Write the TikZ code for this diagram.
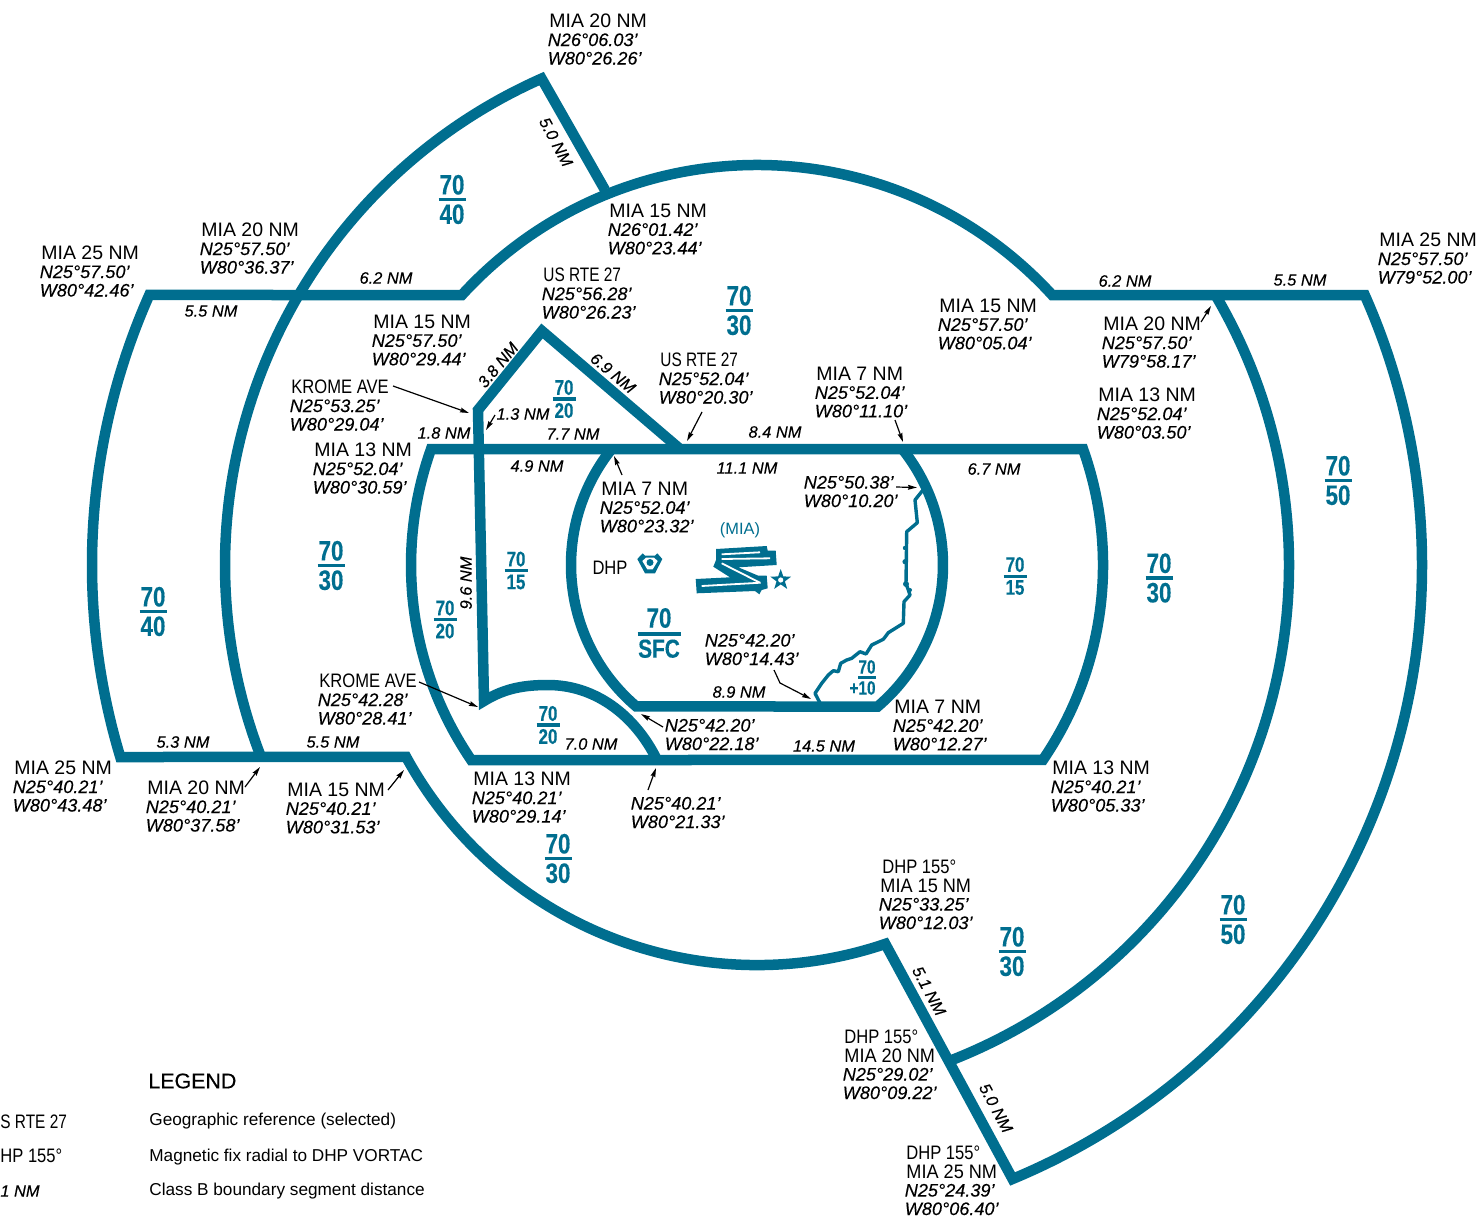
\documentclass[tikz,border=0pt]{standalone}
\usepackage{fontspec}
\setmainfont{Liberation Sans}
\newfontfamily\numf[FakeStretch=0.8,FakeBold=0.3]{Liberation Sans}
\newfontfamily\crdf[FakeBold=0.25]{Liberation Sans}
\newfontfamily\narA[FakeStretch=0.85]{Liberation Sans}
\newfontfamily\narB[FakeStretch=0.79]{Liberation Sans}
\newfontfamily\narC[FakeStretch=0.93]{Liberation Sans}
\usetikzlibrary{arrows.meta,shapes.geometric}
\definecolor{chart}{HTML}{006E8F}
\newcommand\crd[1]{{\crdf\itshape\fontsize{9.05}{9.25}\selectfont\kern-0.8pt #1}}
\newcommand\frbox[5]{\vbox{\hbox to #1{\hss #4\hss}\kern #3\hrule width #1 height #2\kern #3\hbox to #1{\hss #5\hss}}}
\tikzset{
  lab/.style={anchor=north west,inner sep=0pt,align=left,yshift=3.75pt,font=\fontsize{9.75}{9.25}\selectfont},
  seg/.style={inner sep=0pt,font=\crdf\itshape\fontsize{8.2}{9}\selectfont},
  leg/.style={anchor=west,inner sep=0pt,font=\fontsize{8.6}{9}\selectfont},
  bd/.style={draw=chart,line width=5.25pt,line join=miter,miter limit=10},
  lead/.style={draw=black,line width=0.6pt,-{Stealth[length=4.5pt,width=2.4pt,inset=0.5pt]}},
  fr/.style={inner sep=0pt,text=chart,font=\numf\bfseries\fontsize{14}{14}\selectfont},
  frs/.style={inner sep=0pt,text=chart,font=\numf\bfseries\fontsize{10.6}{11}\selectfont},
}
\newcommand\leader[3]{\coordinate (#1a) at (#2);\coordinate (#1b) at (#3);\draw[lead] (#1a) -- (#1b);}
\newcommand\frL[5]{\node[fr] (#1) at (#2,#3) {\frbox{13.5pt}{1.6pt}{1.6pt}{#4}{#5}};}
\newcommand\frS[5]{\node[frs] (#1) at (#2,#3) {\frbox{11.5pt}{1.6pt}{1.2pt}{#4}{#5}};}
\begin{document}
\begin{tikzpicture}[x=0.5pt,y=-0.5pt]
\useasboundingbox (0,0) rectangle (1481,1220);
% outer boundary
\draw[bd] (300,295) -- (461.9,295) arc[start angle=222.45,end angle=317.55,radius=400]
  -- (1364.7,295) arc[start angle=-23.96,end angle=67.4,radius=665]
  -- (885.3,943.9) arc[start angle=71.3,end angle=151.33,radius=400]
  -- (120.3,757) arc[start angle=163.22,end angle=203.96,radius=665] -- (300,295) -- cycle;
% 20 NM
\draw[bd] (261,757) arc[start angle=158.84,end angle=246.1,radius=532] -- (605,190);
\draw[bd] (1215.4,295) arc[start angle=-30.5,end angle=68.7,radius=532];
% 13 NM
\draw[bd] (700,449) -- (1083,449) arc[start angle=-19.59,end angle=34.3,radius=346]
  -- (471.2,760) arc[start angle=145.7,end angle=199.59,radius=346] -- (700,449) -- cycle;
% 7 NM
\draw[bd] (611.6,449) arc[start angle=218.58,end angle=130.47,radius=186] -- (877.7,706.5)
  arc[start angle=49.53,end angle=-38.58,radius=186];
% Krome / US 27 area
\draw[bd] (680,449) -- (542,331) -- (478,410) -- (484,701)
  .. controls (505,688) and (525,685) .. (548,685)
  .. controls (595,685) and (635,715) .. (657,760);
% coastline
\draw[chart,line width=1.7pt,line join=round] (820,703) -- (815,693.3) -- (821.7,683.3) -- (828.3,675) -- (833.3,670.7)
  -- (838.3,671.7) -- (840.7,663.3) -- (846.7,660) -- (851.7,658.3) -- (860,651.7) -- (866,654) -- (871.7,645)
  -- (883.3,639.3) -- (888.3,632.7) -- (903.3,623.3) -- (904,601.7) -- (910,595) -- (906,583.3) -- (906.7,531.7)
  -- (917.3,522.7) -- (915,500) -- (923,490);
\fill[chart] (905,548) circle[radius=2.2] (905,561.7) circle[radius=2.6] (906,584) circle[radius=3] (910,590) circle[radius=2];
% runways
\fill[chart] (716,549) -- (766.7,546) -- (767.7,550.7) -- (775.7,550.7) -- (776.7,565) -- (738.3,567.3)
  -- (758.3,575.7) -- (766.7,575.7) -- (767.7,588.3) -- (761.7,590) -- (759.3,594.3) -- (755,591) -- (696.7,593.3)
  -- (695.7,579) -- (730,577.3) -- (713.3,566.7) -- (716,560) -- cycle;
\draw[white,line width=0.9pt] (721.7,554.3) -- (760,552.3) (721.7,559) -- (770,558.3) (721.7,563.3) -- (760,582.7) (701.7,586) -- (760.7,582.7);
\node[star,star points=5,star point ratio=2.5,minimum size=11pt,inner sep=0pt,fill=chart] (starmark) at (780.7,580) {};
\fill[white] (780.7,580) circle[radius=2.6];
% VORTAC
\fill[chart] (637.3,559) -- (642.7,553.3) -- (645,555.7) -- (655,555.7) -- (657.3,553.3) -- (662.3,559) -- (655,573.3) -- (645,573.3) -- cycle;
\fill[white] (642.3,561) -- (646,557.7) -- (654,557.7) -- (657.7,561) -- (652.7,569.3) -- (647.3,569.3) -- cycle;
\fill[chart] (650,562.5) circle[radius=3.5];
% altitude fractions
\frL{a1}{452}{199.5}{70}{40}
\frL{a2}{739}{310.5}{70}{30}
\frL{a3}{153}{611.5}{70}{40}
\frL{a4}{331}{565.5}{70}{30}
\frS{a5}{564}{399}{70}{20}
\frS{a6}{516}{570.5}{70}{15}
\frS{a7}{445}{619.5}{70}{20}
\node[fr] (a8) at (659,633) {\frbox{21.5pt}{2.2pt}{1.8pt}{70}{\fontsize{13}{13}\selectfont SFC}};
\frS{a9}{1015}{576}{70}{15}
\frL{a10}{1159}{578}{70}{30}
\frL{a11}{1338}{480.5}{70}{50}
\frL{a12}{1233}{919.5}{70}{50}
\frL{a13}{1012}{951.5}{70}{30}
\frL{a14}{558}{858.5}{70}{30}
\frS{a15}{548}{725}{70}{20}
\node[frs,font=\numf\bfseries\fontsize{9.6}{10}\selectfont] (a16) at (867,677.5) {\frbox{9pt}{1.5pt}{1.1pt}{70}{\llap{+}10}};
\node[inner sep=0pt,text=chart,font=\fontsize{8.2}{9}\selectfont] (mia) at (740,530) {(MIA)};
\node[inner sep=0pt,font=\narA\fontsize{9.75}{9.75}\selectfont] (dhp) at (610,568) {DHP};
% fix labels
\node[lab] (l1) at (549,21) {MIA 20 NM\\\crd{N26°06.03’}\\\crd{W80°26.26’}};
\node[lab] (l2) at (609,211) {MIA 15 NM\\\crd{N26°01.42’}\\\crd{W80°23.44’}};
\node[lab] (l3) at (41,253) {MIA 25 NM\\\crd{N25°57.50’}\\\crd{W80°42.46’}};
\node[lab] (l4) at (201,230) {MIA 20 NM\\\crd{N25°57.50’}\\\crd{W80°36.37’}};
\node[lab] (l5) at (543,275) {{\narB US RTE 27}\\\crd{N25°56.28’}\\\crd{W80°26.23’}};
\node[lab] (l6) at (373,322) {MIA 15 NM\\\crd{N25°57.50’}\\\crd{W80°29.44’}};
\node[lab] (l7) at (291,387) {{\narA KROME AVE}\\\crd{N25°53.25’}\\\crd{W80°29.04’}};
\node[lab] (l8) at (314,450) {MIA 13 NM\\\crd{N25°52.04’}\\\crd{W80°30.59’}};
\node[lab] (l9) at (660,360) {{\narB US RTE 27}\\\crd{N25°52.04’}\\\crd{W80°20.30’}};
\node[lab] (l10) at (816,374) {MIA 7 NM\\\crd{N25°52.04’}\\\crd{W80°11.10’}};
\node[lab] (l11) at (939,306) {MIA 15 NM\\\crd{N25°57.50’}\\\crd{W80°05.04’}};
\node[lab] (l12) at (1103,324) {MIA 20 NM\\\crd{N25°57.50’}\\\crd{W79°58.17’}};
\node[lab] (l13) at (1379,240) {MIA 25 NM\\\crd{N25°57.50’}\\\crd{W79°52.00’}};
\node[lab] (l14) at (1098,395) {MIA 13 NM\\\crd{N25°52.04’}\\\crd{W80°03.50’}};
\node[lab] (l15) at (601,489) {MIA 7 NM\\\crd{N25°52.04’}\\\crd{W80°23.32’}};
\node[lab] (l16) at (805,483) {\crd{N25°50.38’}\\\crd{W80°10.20’}};
\node[lab] (l17) at (706,641) {\crd{N25°42.20’}\\\crd{W80°14.43’}};
\node[lab] (l18) at (666,726) {\crd{N25°42.20’}\\\crd{W80°22.18’}};
\node[lab] (l19) at (319,681) {{\narA KROME AVE}\\\crd{N25°42.28’}\\\crd{W80°28.41’}};
\node[lab] (l20) at (894,707) {MIA 7 NM\\\crd{N25°42.20’}\\\crd{W80°12.27’}};
\node[lab] (l21) at (473,779) {MIA 13 NM\\\crd{N25°40.21’}\\\crd{W80°29.14’}};
\node[lab] (l22) at (632,804) {\crd{N25°40.21’}\\\crd{W80°21.33’}};
\node[lab] (l23) at (1052,768) {MIA 13 NM\\\crd{N25°40.21’}\\\crd{W80°05.33’}};
\node[lab] (l24) at (14,768) {MIA 25 NM\\\crd{N25°40.21’}\\\crd{W80°43.48’}};
\node[lab] (l25) at (147,788) {MIA 20 NM\\\crd{N25°40.21’}\\\crd{W80°37.58’}};
\node[lab] (l26) at (287,790) {MIA 15 NM\\\crd{N25°40.21’}\\\crd{W80°31.53’}};
\node[lab] (l27) at (880,867) {\hspace*{1pt}{\narA DHP 155°}\\{\narC MIA 15 NM}\\\crd{N25°33.25’}\\\crd{W80°12.03’}};
\node[lab] (l28) at (844,1037) {{\narA DHP 155°}\\{\narC MIA 20 NM}\\\crd{N25°29.02’}\\\crd{W80°09.22’}};
\node[lab] (l29) at (906,1153) {{\narA DHP 155°}\\{\narC MIA 25 NM}\\\crd{N25°24.39’}\\\crd{W80°06.40’}};
% segment distances
\node[seg] (s1) at (386,278) {6.2 NM};
\node[seg] (s2) at (211,311) {5.5 NM};
\node[seg] (s3) at (1125,281) {6.2 NM};
\node[seg] (s4) at (1300,280) {5.5 NM};
\node[seg] (s5) at (444,433) {1.8 NM};
\node[seg] (s6) at (523,414) {1.3 NM};
\node[seg] (s7) at (573,434) {7.7 NM};
\node[seg] (s8) at (775,432) {8.4 NM};
\node[seg] (s9) at (537,466) {4.9 NM};
\node[seg] (s10) at (747,468) {11.1 NM};
\node[seg] (s11) at (994,469) {6.7 NM};
\node[seg] (s12) at (739,692) {8.9 NM};
\node[seg] (s13) at (591,744) {7.0 NM};
\node[seg] (s14) at (824,746) {14.5 NM};
\node[seg] (s15) at (183,742) {5.3 NM};
\node[seg] (s16) at (333,742) {5.5 NM};
\node[seg,rotate=-62] (s17) at (556,142) {5.0 NM};
\node[seg,rotate=50] (s18) at (498,365) {3.8 NM};
\node[seg,rotate=-40] (s19) at (613,373) {6.9 NM};
\node[seg,rotate=90] (s20) at (466,583) {9.6 NM};
\node[seg,rotate=-62] (s21) at (929,991) {5.1 NM};
\node[seg,rotate=-62] (s22) at (996,1108) {5.0 NM};
% leaders
\leader{k1}{393,386}{469,413}
\leader{m7}{895,420}{903,442}
\leader{us}{702,412}{687,441}
\leader{d13}{495,415}{486,430}
\leader{m7l}{622,475}{614,456}
\leader{coast}{896,487}{917,487.5}
\coordinate (bend) at (780,683);\coordinate (bendb) at (811,699);
\draw[lead] (774,670) -- (bend) -- (bendb);
\leader{r22}{663,727}{641,714}
\leader{k2}{419,682}{478,707}
\leader{r21}{648,790}{656,768}
\leader{t20}{1201,322}{1211,306}
\leader{b20}{245,787}{260,767}
\leader{b15}{388,790}{404,770}
% legend
\node[anchor=west,inner sep=0pt,font=\crdf\fontsize{10.7}{11}\selectfont] (legend) at (148,1081) {LEGEND};
\node[leg] (g1) at (149,1121) {Geographic reference (selected)};
\node[leg] (g2) at (149,1157) {Magnetic fix radial to DHP VORTAC};
\node[leg] (g3) at (149,1191) {Class B boundary segment distance};
\node[anchor=west,inner sep=0pt,font=\narB\fontsize{9.75}{9.75}\selectfont] (k1t) at (0,1122) {S RTE 27};
\node[anchor=west,inner sep=0pt,font=\narA\fontsize{9.75}{9.75}\selectfont] (k2t) at (0,1156) {HP 155°};
\node[anchor=west,seg] (k3t) at (0,1191) {1 NM};
\end{tikzpicture}
\end{document}
